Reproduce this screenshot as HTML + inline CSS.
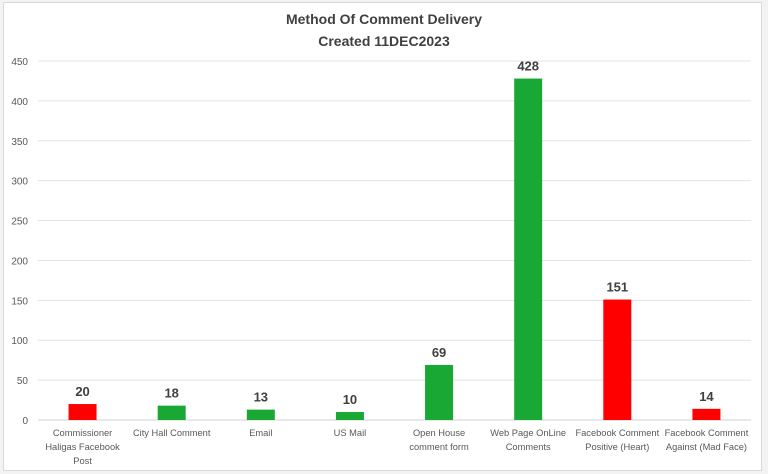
<!DOCTYPE html>
<html><head><meta charset="utf-8"><style>
body{margin:0;background:#fff;}
svg{display:block;font-family:"Liberation Sans",Calibri,sans-serif;}
</style></head><body>
<svg id="chart" width="768" height="474" viewBox="0 0 768 474">
<rect x="0" y="0" width="768" height="474" fill="#f3f3f3"/>
<rect x="3.5" y="2.5" width="758" height="468" fill="#fff" stroke="#d9d9d9"/>
<text x="384" y="24" text-anchor="middle" font-size="14" font-weight="bold" fill="#404040">Method Of Comment Delivery</text>
<text x="384" y="46" text-anchor="middle" font-size="14" font-weight="bold" fill="#404040">Created 11DEC2023</text>
<g id="grid"></g><g id="bars"></g><g id="labels"></g>
</svg>
<script>
const categories=[["Commissioner","Haligas Facebook","Post"],["City Hall Comment"],["Email"],["US Mail"],["Open House","comment form"],["Web Page OnLine","Comments"],["Facebook Comment","Positive (Heart)"],["Facebook Comment","Against (Mad Face)"]];
const values=[20,18,13,10,69,428,151,14];
const colors=["#ff0000","#1aa834","#1aa834","#1aa834","#1aa834","#1aa834","#ff0000","#ff0000"];
const ticks=[0,50,100,150,200,250,300,350,400,450];
const NS="http://www.w3.org/2000/svg";
const L=38,R=751,Y0=420,Ymax=61;
const y=v=>Y0-(Y0-Ymax)*v/450;
const band=(R-L)/categories.length;
const xc=i=>L+band*(i+0.5);
function mk(t,a,p){const e=document.createElementNS(NS,t);for(const k in a)e.setAttribute(k,a[k]);p.appendChild(e);return e;}
const g=document.getElementById('grid'),b=document.getElementById('bars'),lb=document.getElementById('labels');
ticks.forEach(t=>{
 const ln=mk('line',{x1:L,x2:R,y1:y(t),y2:y(t),stroke:t===0?'#d0d0d0':'#e3e3e3','stroke-width':1},g);
 
 
 const tx=mk('text',{x:28,y:y(t)+4,'text-anchor':'end','font-size':10,fill:'#595959'},g);
 tx.textContent=t;
 
 
});
values.forEach((v,i)=>{
 const w=28;
 const r=mk('rect',{x:xc(i)-w/2,y:y(v),width:w,height:Y0-y(v),fill:colors[i]},b);
 
 
 const t=mk('text',{x:xc(i),y:y(v)-8,'text-anchor':'middle','font-size':13,'font-weight':'bold',fill:'#404040'},lb);
 t.textContent=v;
 
 
 categories[i].forEach((line,j)=>{
  const c=mk('text',{x:xc(i),y:436+j*14,'text-anchor':'middle','font-size':9.3,fill:'#595959'},lb);
  c.textContent=line;
  
  
 });
});
</script>
</body></html>
